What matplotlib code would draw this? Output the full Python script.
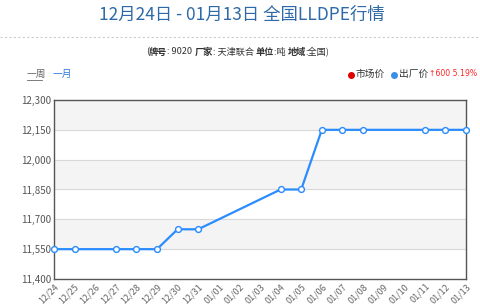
import matplotlib
matplotlib.use("Agg")
import matplotlib.pyplot as plt
from matplotlib.text import Annotation

plt.rcParams['font.family'] = ['Noto Sans CJK SC', 'DejaVu Sans']

categories = ["12/24", "12/25", "12/26", "12/27", "12/28", "12/29", "12/30", "12/31",
              "01/01", "01/02", "01/03", "01/04", "01/05", "01/06", "01/07", "01/08",
              "01/09", "01/10", "01/11", "01/12", "01/13"]
point_dates = ["12/24", "12/25", "12/27", "12/28", "12/29", "12/30", "12/31",
               "01/04", "01/05", "01/06", "01/07", "01/08", "01/11", "01/12", "01/13"]
factory_price = [11550, 11550, 11550, 11550, 11550, 11650, 11650,
                 11850, 11850, 12150, 12150, 12150, 12150, 12150, 12150]
yticks = [11400, 11550, 11700, 11850, 12000, 12150, 12300]

W, H = 480, 308
fig = plt.figure(figsize=(W / 100, H / 100), dpi=100)
fig.patch.set_facecolor('white')

L, R, T, B = 54, 466, 100, 279
ax = fig.add_axes([L / W, 1 - B / H, (R - L) / W, (B - T) / H])

xs = [categories.index(d) for d in point_dates]
ax.set_xlim(0, len(categories) - 1)
ax.set_ylim(yticks[0], yticks[-1])

# alternating bands
for i in range(len(yticks) - 1):
    if i % 2 == 1:
        ax.axhspan(yticks[i], yticks[i + 1], color='#f4f4f4', zorder=0, lw=0)
for y in yticks[1:-1]:
    ax.axhline(y, color='#d8d8d8', lw=0.8, zorder=1)

ax.plot(xs, factory_price, color='#2a8cff', lw=1.6, marker='o', ms=4.2,
        mfc='white', mec='#2a8cff', mew=1.0, zorder=3, clip_on=False)

ax.set_yticks(yticks)
ax.set_yticklabels([f"{v:,}" for v in yticks], fontsize=7, color='#555555')
ax.set_xticks(range(len(categories)))
ax.set_xticklabels(categories, rotation=45, ha='right', rotation_mode='anchor',
                   fontsize=6.5, color='#666666')
ax.tick_params(axis='both', length=0, pad=2)
for s in ax.spines.values():
    s.set_color('#555555')
    s.set_linewidth(1.0)

# title
fig.text(242 / W, 1 - 15 / H, "12月24日 - 01月13日 全国LLDPE行情", ha='center', va='center',
         fontsize=12.5, color='#2e6aa8')
fig.add_artist(plt.Line2D([0, 1], [1 - 37 / H, 1 - 37 / H], color='#cccccc', lw=0.8,
                          ls=(0, (2, 2)), transform=fig.transFigure))

# subtitle with mixed bold, chained positioning
parts = [("牌号", True), (": 9020 ", False),
         ("厂家", True), (": 天津联合 ", False),
         ("单位", True), (":吨 ", False),
         ("地域", True), (":全国)", False)]
prev = fig.text(146 / W, 1 - 52 / H, "(", ha='left', va='center', fontsize=6.6,
                color='#333333')
for txt, bold in parts:
    prev = fig.add_artist(Annotation(
        txt, xy=(1, 0.5), xycoords=prev, ha='left', va='center', fontsize=6.6,
        color='#333333', fontweight='bold' if bold else 'normal'))

# period links
fig.text(27 / W, 1 - 74 / H, "一周", ha='left', va='center', fontsize=7, color='#666666')
fig.add_artist(plt.Line2D([27 / W, 42 / W], [1 - 80 / H, 1 - 80 / H], color='#666666', lw=0.6,
                          transform=fig.transFigure))
fig.text(53 / W, 1 - 74 / H, "一月", ha='left', va='center', fontsize=7, color='#2a7ae0')

# legend
fig.add_artist(plt.Line2D([351 / W], [1 - 75 / H], marker='o', ms=4, color='#e00000',
                          transform=fig.transFigure))
fig.text(356 / W, 1 - 74 / H, "市场价", ha='left', va='center', fontsize=7, color='#333333')
fig.add_artist(plt.Line2D([394 / W], [1 - 75 / H], marker='o', ms=4, color='#3a8ee6',
                          transform=fig.transFigure))
fig.text(399 / W, 1 - 74 / H, "出厂价", ha='left', va='center', fontsize=7, color='#333333')
fig.text(429 / W, 1 - 74 / H, "↑600 5.19%", ha='left', va='center', fontsize=5.6, color='#ff2222',
         family=['DejaVu Sans'])

fig.savefig("out.png", dpi=100, facecolor='white')
